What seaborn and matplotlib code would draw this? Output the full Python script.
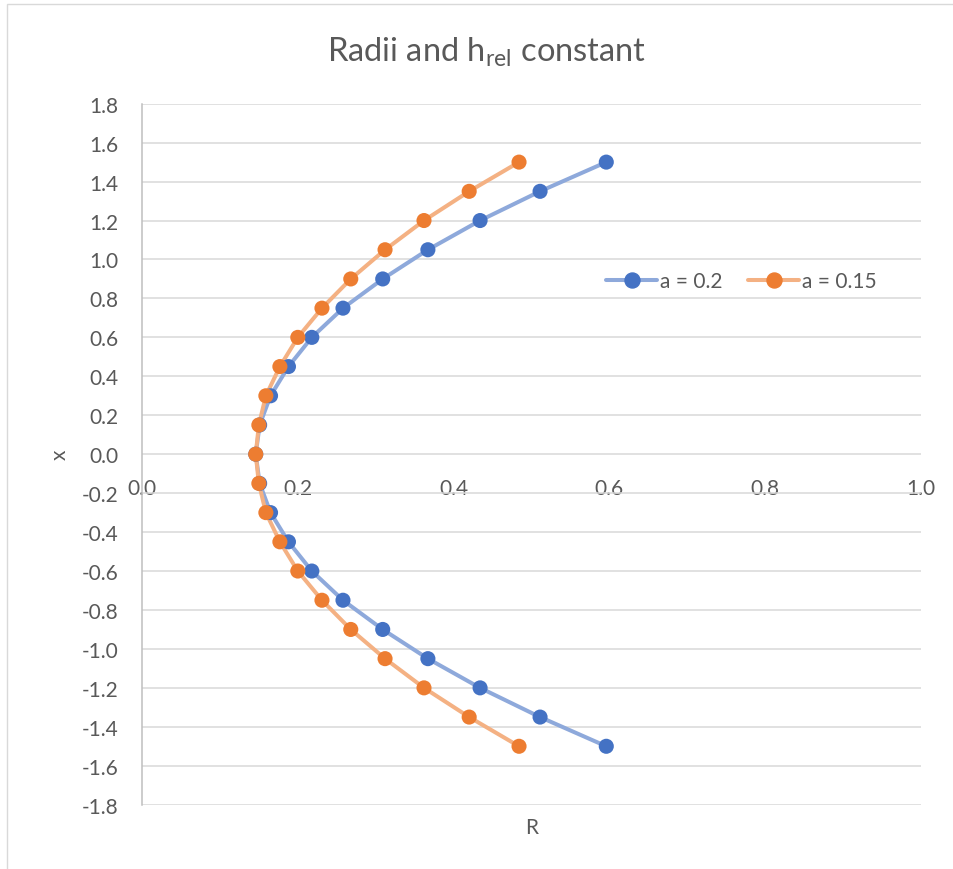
import matplotlib
matplotlib.use("Agg")
import matplotlib.pyplot as plt
import pandas as pd
import seaborn as sns
from matplotlib.lines import Line2D
from matplotlib.patches import Rectangle

# Axial position x and radius R for two values of a
x_values = [-1.5, -1.35, -1.2, -1.05, -0.9, -0.75, -0.6, -0.45, -0.3, -0.15, 0.0,
            0.15, 0.3, 0.45, 0.6, 0.75, 0.9, 1.05, 1.2, 1.35, 1.5]
r_a020 = [0.596, 0.511, 0.434, 0.367, 0.309, 0.258, 0.218, 0.188, 0.165, 0.151, 0.146,
          0.151, 0.165, 0.188, 0.218, 0.258, 0.309, 0.367, 0.434, 0.511, 0.596]
r_a015 = [0.484, 0.420, 0.362, 0.312, 0.268, 0.231, 0.200, 0.177, 0.159, 0.150, 0.146,
          0.150, 0.159, 0.177, 0.200, 0.231, 0.268, 0.312, 0.362, 0.420, 0.484]
series_labels = ["a = 0.2", "a = 0.15"]

x_ticks = [0.0, 0.2, 0.4, 0.6, 0.8, 1.0]
y_ticks = [-1.8, -1.6, -1.4, -1.2, -1.0, -0.8, -0.6, -0.4, -0.2, 0.0,
           0.2, 0.4, 0.6, 0.8, 1.0, 1.2, 1.4, 1.6, 1.8]

df = pd.concat([
    pd.DataFrame({"x": x_values, "R": r_a020, "series": series_labels[0]}),
    pd.DataFrame({"x": x_values, "R": r_a015, "series": series_labels[1]}),
], ignore_index=True)

marker_colors = {"a = 0.2": "#4472C4", "a = 0.15": "#ED7D31"}
line_colors = {"a = 0.2": "#8EA9DB", "a = 0.15": "#F4B183"}

sns.set_theme(style="white")
plt.rcParams["font.family"] = ["Lato", "DejaVu Sans"]
plt.rcParams["mathtext.fontset"] = "custom"
plt.rcParams["mathtext.rm"] = "Lato"
plt.rcParams["mathtext.it"] = "Lato"

W, H = 954, 870
TEXT = "#595959"
fig = plt.figure(figsize=(W / 100, H / 100), dpi=100)
fig.patch.set_facecolor("white")

left, right, top, bottom = 142, 921, 104.7, 805.7
ax = fig.add_axes([left / W, 1 - bottom / H, (right - left) / W, (bottom - top) / H])

for name in series_labels:
    sub = df[df["series"] == name]
    sns.lineplot(data=sub, x="R", y="x", sort=False, estimator=None,
                 color=line_colors[name], linewidth=2.9, ax=ax, zorder=3)
    sns.scatterplot(data=sub, x="R", y="x", color=marker_colors[name],
                    s=118, edgecolor="none", linewidth=0, ax=ax, zorder=4)

ax.set_xlim(0, 1)
ax.set_ylim(-1.8, 1.8)
ax.set_xticks(x_ticks)
ax.set_yticks(y_ticks)
ax.set_xticklabels([f"{v:.1f}" for v in x_ticks])
ax.set_yticklabels([f"{v:.1f}" for v in y_ticks])
ax.set_xlabel("")
ax.set_ylabel("")

ax.grid(axis="y", color="#d9d9d9", linewidth=1.1, zorder=0)
ax.grid(axis="x", visible=False)
ax.set_axisbelow(True)

for side in ["top", "right"]:
    ax.spines[side].set_visible(False)
ax.spines["left"].set_color("#bfbfbf")
ax.spines["left"].set_linewidth(1.1)
ax.spines["bottom"].set_position(("data", 0))
ax.spines["bottom"].set_visible(False)

ax.tick_params(axis="x", length=0, pad=17, labelsize=15, labelcolor=TEXT)
ax.tick_params(axis="y", length=0, pad=17, labelsize=15, labelcolor=TEXT)

# Title with subscript
fig.text(487 / W, 1 - 62 / H, r"Radii and h$_{\mathrm{rel}}$ constant",
         ha="center", va="baseline", fontsize=23.5, color=TEXT)

# Axis titles
fig.text(532 / W, 1 - 828 / H, "R", ha="center", va="center", fontsize=15, color=TEXT)
fig.text(60 / W, 1 - 455 / H, "x", ha="center", va="center", fontsize=15,
         color=TEXT, rotation=90)

handles = [
    Line2D([0], [0], color=line_colors[n], linewidth=2.9, marker="o",
           markersize=10.8, markerfacecolor=marker_colors[n],
           markeredgecolor=marker_colors[n])
    for n in series_labels
]
leg = ax.legend(handles, series_labels, ncol=2, frameon=False, loc="center left",
                bbox_to_anchor=(606 / W, 1 - 282 / H), bbox_transform=fig.transFigure,
                fontsize=15, handlelength=2.45, handletextpad=0.12, columnspacing=1.25,
                borderpad=0, borderaxespad=0)
for t in leg.get_texts():
    t.set_color(TEXT)

# Chart frame outline
fig.add_artist(Rectangle((7 / W, -0.1), 2.0, 1.1 - 5 / H, transform=fig.transFigure,
                         fill=False, edgecolor="#d9d9d9", linewidth=1.0, clip_on=False))

fig.savefig("out.png", dpi=100, facecolor="white")
